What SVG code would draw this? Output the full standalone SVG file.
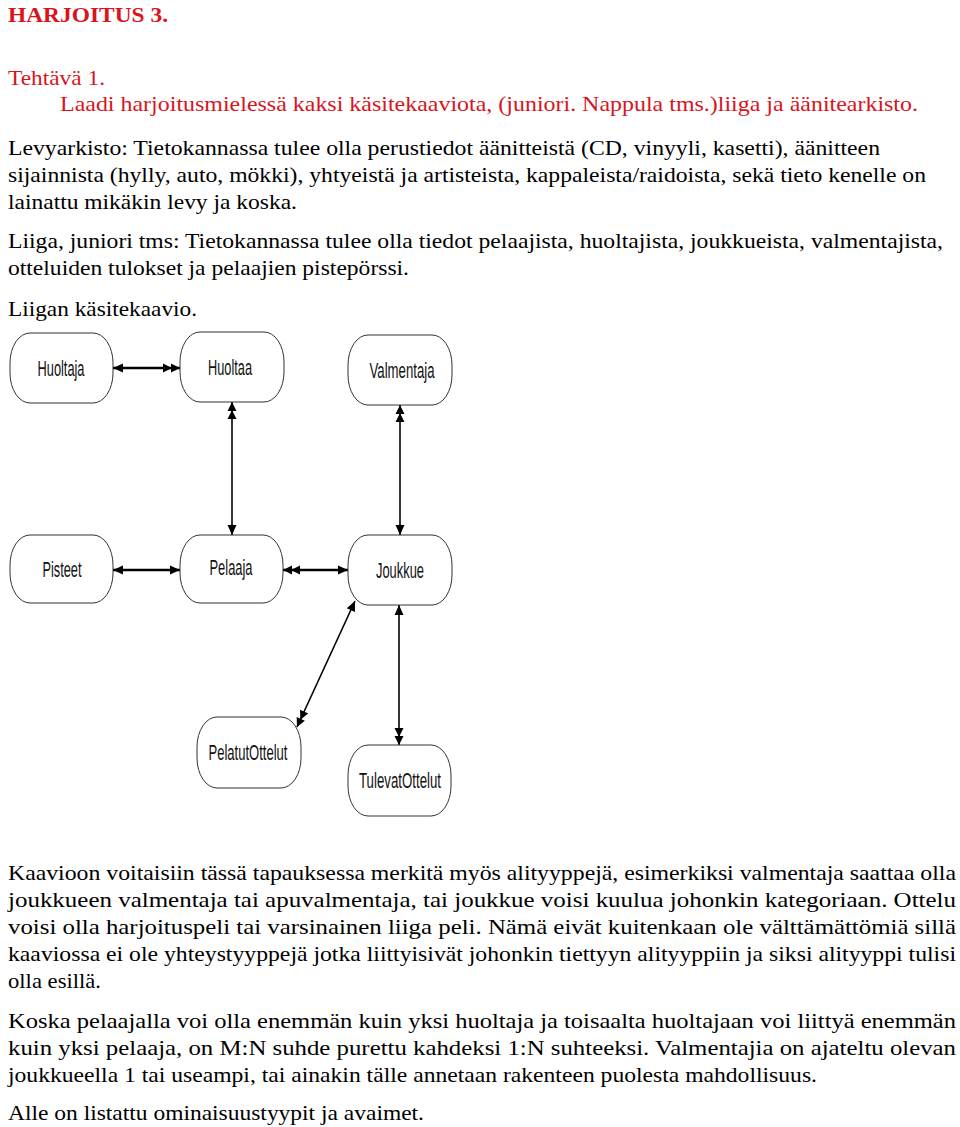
<svg xmlns="http://www.w3.org/2000/svg" width="960" height="1127" viewBox="0 0 960 1127">
<style>
.t{font-family:"Liberation Serif","Times New Roman",serif;font-size:22px;fill:#000}
.r{fill:#d9141c}
.b{font-weight:bold}
.node rect{fill:#fff;stroke:#333;stroke-width:1}
.node text{font-family:"Liberation Sans",Arial,sans-serif;font-size:22px;fill:#111;text-anchor:middle}
.c line{stroke:#000;fill:none}
.h{stroke-width:2.5}
.v{stroke-width:1.6}
</style>
<defs>
<marker id="one" markerUnits="userSpaceOnUse" markerWidth="11" markerHeight="10" refX="10" refY="5" orient="auto-start-reverse" overflow="visible">
<path d="M0,0.5 L10,5 L0,9.5 z" fill="#000"/>
</marker>
<marker id="many" markerUnits="userSpaceOnUse" markerWidth="18" markerHeight="10" refX="17" refY="5" orient="auto-start-reverse" overflow="visible">
<path d="M0,0.5 L9,5 L0,9.5 z M8,0.5 L17,5 L8,9.5 z" fill="#000"/>
</marker>
</defs>
<rect width="960" height="1127" fill="#fff"/>
<g id="text">
<text class="t r b" x="8" y="22" textLength="160" lengthAdjust="spacingAndGlyphs">HARJOITUS 3.</text>
<text class="t r" x="8" y="85" textLength="97" lengthAdjust="spacingAndGlyphs">Tehtävä 1.</text>
<text class="t r" x="60" y="111" textLength="858" lengthAdjust="spacingAndGlyphs">Laadi harjoitusmielessä kaksi käsitekaaviota, (juniori. Nappula tms.)liiga ja äänitearkisto.</text>
<text class="t" x="8" y="155" textLength="872" lengthAdjust="spacingAndGlyphs">Levyarkisto: Tietokannassa tulee olla perustiedot äänitteistä (CD, vinyyli, kasetti), äänitteen</text>
<text class="t" x="8" y="182" textLength="918" lengthAdjust="spacingAndGlyphs">sijainnista (hylly, auto, mökki), yhtyeistä ja artisteista, kappaleista/raidoista, sekä tieto kenelle on</text>
<text class="t" x="8" y="209" textLength="289" lengthAdjust="spacingAndGlyphs">lainattu mikäkin levy ja koska.</text>
<text class="t" x="8" y="248" textLength="935" lengthAdjust="spacingAndGlyphs">Liiga, juniori tms: Tietokannassa tulee olla tiedot pelaajista, huoltajista, joukkueista, valmentajista,</text>
<text class="t" x="8" y="275" textLength="401" lengthAdjust="spacingAndGlyphs">otteluiden tulokset ja pelaajien pistepörssi.</text>
<text class="t" x="8" y="316" textLength="189" lengthAdjust="spacingAndGlyphs">Liigan käsitekaavio.</text>
<text class="t" x="8" y="880" textLength="948" lengthAdjust="spacingAndGlyphs">Kaavioon voitaisiin tässä tapauksessa merkitä myös alityyppejä, esimerkiksi valmentaja saattaa olla</text>
<text class="t" x="8" y="907" textLength="948" lengthAdjust="spacingAndGlyphs">joukkueen valmentaja tai apuvalmentaja, tai joukkue voisi kuulua johonkin kategoriaan. Ottelu</text>
<text class="t" x="8" y="934" textLength="948" lengthAdjust="spacingAndGlyphs">voisi olla harjoituspeli tai varsinainen liiga peli. Nämä eivät kuitenkaan ole välttämättömiä sillä</text>
<text class="t" x="8" y="961" textLength="948" lengthAdjust="spacingAndGlyphs">kaaviossa ei ole yhteystyyppejä jotka liittyisivät johonkin tiettyyn alityyppiin ja siksi alityyppi tulisi</text>
<text class="t" x="8" y="988" textLength="93" lengthAdjust="spacingAndGlyphs">olla esillä.</text>
<text class="t" x="8" y="1028" textLength="948" lengthAdjust="spacingAndGlyphs">Koska pelaajalla voi olla enemmän kuin yksi huoltaja ja toisaalta huoltajaan voi liittyä enemmän</text>
<text class="t" x="8" y="1055" textLength="948" lengthAdjust="spacingAndGlyphs">kuin yksi pelaaja, on M:N suhde purettu kahdeksi 1:N suhteeksi. Valmentajia on ajateltu olevan</text>
<text class="t" x="8" y="1082" textLength="809" lengthAdjust="spacingAndGlyphs">joukkueella 1 tai useampi, tai ainakin tälle annetaan rakenteen puolesta mahdollisuus.</text>
<text class="t" x="8" y="1120" textLength="416" lengthAdjust="spacingAndGlyphs">Alle on listattu ominaisuustyypit ja avaimet.</text>
</g>
<g id="connectors" class="c">
<line class="h" x1="113" y1="368" x2="180" y2="368" marker-start="url(#one)" marker-end="url(#many)"/>
<line class="v" x1="232" y1="402" x2="232" y2="535" marker-start="url(#many)" marker-end="url(#one)"/>
<line class="v" x1="400" y1="405" x2="400" y2="535" marker-start="url(#many)" marker-end="url(#one)"/>
<line class="h" x1="113" y1="570" x2="180" y2="570" marker-start="url(#one)" marker-end="url(#one)"/>
<line class="h" x1="283" y1="570" x2="348" y2="570" marker-start="url(#many)" marker-end="url(#one)"/>
<line class="v" x1="355" y1="601" x2="297" y2="727" marker-start="url(#one)" marker-end="url(#many)"/>
<line class="v" x1="399" y1="605" x2="399" y2="745" marker-start="url(#one)" marker-end="url(#many)"/>
</g>
<g id="node-huoltaja" class="node"><rect x="10" y="333" width="103" height="70" rx="20" ry="30"/><text x="61" y="376" textLength="47" lengthAdjust="spacingAndGlyphs">Huoltaja</text></g>
<g id="node-huoltaa" class="node"><rect x="180" y="332" width="104" height="70" rx="20" ry="30"/><text x="230" y="375" textLength="44" lengthAdjust="spacingAndGlyphs">Huoltaa</text></g>
<g id="node-valmentaja" class="node"><rect x="348" y="335" width="104" height="70" rx="20" ry="30"/><text x="402" y="378" textLength="65" lengthAdjust="spacingAndGlyphs">Valmentaja</text></g>
<g id="node-pisteet" class="node"><rect x="10" y="535" width="103" height="68" rx="20" ry="30"/><text x="62" y="577" textLength="39" lengthAdjust="spacingAndGlyphs">Pisteet</text></g>
<g id="node-pelaaja" class="node"><rect x="180" y="535" width="103" height="68" rx="20" ry="30"/><text x="231" y="575" textLength="43" lengthAdjust="spacingAndGlyphs">Pelaaja</text></g>
<g id="node-joukkue" class="node"><rect x="348" y="535" width="104" height="70" rx="20" ry="30"/><text x="400" y="578" textLength="48" lengthAdjust="spacingAndGlyphs">Joukkue</text></g>
<g id="node-pelatutottelut" class="node"><rect x="197" y="717" width="104" height="71" rx="20" ry="30"/><text x="248" y="760" textLength="79" lengthAdjust="spacingAndGlyphs">PelatutOttelut</text></g>
<g id="node-tulevatottelut" class="node"><rect x="348" y="745" width="103" height="71" rx="20" ry="30"/><text x="400" y="788" textLength="82" lengthAdjust="spacingAndGlyphs">TulevatOttelut</text></g>
</svg>
